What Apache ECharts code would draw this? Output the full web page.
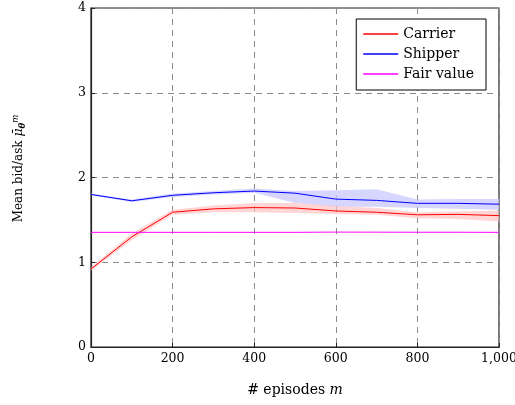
<!DOCTYPE html>
<html><head><meta charset="utf-8">
<script src="https://cdn.jsdelivr.net/npm/echarts@6/dist/echarts.min.js"></script>
<style>html,body{margin:0;padding:0;background:#fff}#c{width:515px;height:405px}</style>
</head><body><div id="c"></div>
<script>
const episodes = [0,100,200,300,400,500,600,700,800,900,1000];
const carrier = [0.92,1.30,1.59,1.63,1.645,1.64,1.605,1.59,1.56,1.565,1.55];
const carrierLow = [0.90,1.26,1.56,1.59,1.59,1.58,1.57,1.56,1.52,1.51,1.48];
const carrierHigh = [0.94,1.34,1.62,1.67,1.70,1.70,1.665,1.64,1.59,1.60,1.61];
const shipper = [1.80,1.725,1.79,1.82,1.84,1.815,1.745,1.73,1.695,1.695,1.685];
const shipperLow = [1.79,1.71,1.77,1.80,1.82,1.70,1.655,1.655,1.64,1.63,1.62];
const shipperHigh = [1.81,1.74,1.81,1.84,1.87,1.84,1.85,1.86,1.74,1.745,1.745];
const fairValue = [1.353,1.353,1.353,1.353,1.353,1.353,1.356,1.355,1.354,1.354,1.353];
const xTicks = [0,200,400,600,800,1000];
const yTicks = [0,1,2,3,4];

const pts = a => episodes.map((x,i)=>[x,a[i]]);
const font = 'DejaVu Serif';
const band = (low, high, color) => ({
  type:'custom', silent:true, z:1,
  data: episodes.map((x,i)=>[x, low[i], high[i]]),
  encode:{x:0, y:[1,2]},
  renderItem:(params, api) => {
    if (params.dataIndex !== 0) return null;
    const top = episodes.map((x,i)=>api.coord([x, high[i]]));
    const bot = episodes.map((x,i)=>api.coord([x, low[i]])).reverse();
    return {type:'polygon', shape:{points: top.concat(bot)}, style:{fill:color}};
  }
});
const chart = echarts.init(document.getElementById('c'), null, {renderer:'canvas'});
chart.setOption({
  animation:false,
  textStyle:{fontFamily:font},
  grid:{left:91,right:16,top:8,bottom:58,show:true,borderColor:'#222',borderWidth:1.2,containLabel:false,outerBoundsMode:'none'},
  legend:{
    right:29, top:19, orient:'vertical', itemWidth:35, itemHeight:1.5, itemGap:6,
    borderColor:'#000', borderWidth:1, backgroundColor:'#fff', borderRadius:0, padding:[8,12,9,7],
    data:['Carrier','Shipper','Fair value'],
    textStyle:{fontFamily:font, fontSize:14, color:'#000'},
    icon:'rect'
  },
  xAxis:{
    type:'value', min:0, max:1000, interval:200,
    name:'{t|# episodes }{i|m}', nameLocation:'middle', nameGap:36,
    nameTextStyle:{fontFamily:font, fontSize:14, color:'#000',
      rich:{t:{fontFamily:font,fontSize:14,color:'#000'}, i:{fontFamily:font,fontSize:14,fontStyle:'italic',color:'#000'}}},
    axisLine:{show:true,lineStyle:{color:'#222',width:1.2}},
    axisTick:{show:true, inside:true, length:4, lineStyle:{color:'#222'}},
    axisLabel:{color:'#000', fontFamily:font, fontSize:12.5, margin:5,
      formatter:v=>v.toLocaleString('en-US')},
    splitLine:{show:true,lineStyle:{color:'#8a8a8a',type:[6,5],width:1}}
  },
  yAxis:{
    type:'value', min:0, max:4, interval:1,
    name:'{t|Mean bid/ask }{mu|μ̄}{s|θ}{m|m}', nameLocation:'middle', nameGap:64,
    nameTextStyle:{fontFamily:font, fontSize:12, color:'#000', padding:[0,0,0,18],
      rich:{t:{fontFamily:font,fontSize:12,color:'#000'},
            mu:{fontFamily:font,fontSize:12.5,fontStyle:'italic',color:'#000'},
            s:{fontFamily:font,fontSize:8.5,fontStyle:'italic',fontWeight:'bold',color:'#000',verticalAlign:'bottom',padding:[7,0,0,0]},
            m:{fontFamily:font,fontSize:8.5,fontStyle:'italic',color:'#000',verticalAlign:'top',padding:[0,0,7,0]}}},
    axisLine:{show:true,lineStyle:{color:'#222',width:1.2}},
    axisTick:{show:true, inside:true, length:4, lineStyle:{color:'#222'}},
    axisLabel:{color:'#000', fontFamily:font, fontSize:12.5, margin:5},
    splitLine:{show:true,lineStyle:{color:'#8a8a8a',type:[6,5],width:1}}
  },
  series:[
    band(shipperLow, shipperHigh, 'rgba(200,200,255,0.75)'),
    band(carrierLow, carrierHigh, 'rgba(255,190,190,0.65)'),
    {name:'Carrier', type:'line', data:pts(carrier), symbol:'none', lineStyle:{color:'#ff0000',width:1}, itemStyle:{color:'#ff0000'}, z:3},
    {name:'Shipper', type:'line', data:pts(shipper), symbol:'none', lineStyle:{color:'#0000ff',width:1}, itemStyle:{color:'#0000ff'}, z:3},
    {name:'Fair value', type:'line', data:pts(fairValue), symbol:'none', lineStyle:{color:'#ff00ff',width:1}, itemStyle:{color:'#ff00ff'}, z:3}
  ]
});
</script></body></html>
